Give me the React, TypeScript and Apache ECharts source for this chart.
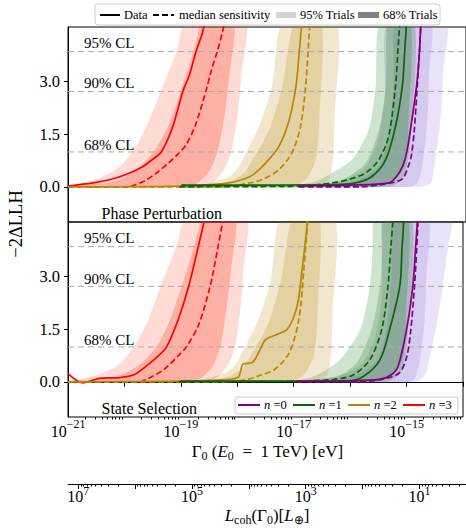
import React, { useEffect, useRef } from 'react';
import * as echarts from 'echarts';

// ---------- axes ----------
const X_MIN = -21; // log10(Gamma0 / eV)
const X_MAX = -14;
const Y_MIN = -1;
const Y_MAX = 4.54;
const Y_TICKS = [0, 1.5, 3];
const X_LABEL_EXPONENTS = [-21, -19, -17, -15];
const L_OFFSET = -13.82; // log10(Lcoh) = L_OFFSET - log10(Gamma0)
const L_LABEL_EXPONENTS = [1, 3, 5, 7];
const CL_LEVELS = [0.99, 2.71, 3.84];
const CL_LABELS = ['68% CL', '90% CL', '95% CL'];
const PANEL_LABELS = ['Phase Perturbation', 'State Selection'];
const N_VALUES = [0, 1, 2, 3];

// ---------- Phase Perturbation panel: [log10 Gamma0, -2ΔLLH] ----------
const phaseN3Data = [[-21, 0.02], [-20.56, 0.11], [-20.27, 0.2], [-19.98, 0.35], [-19.68, 0.58], [-19.53, 0.76], [-19.36, 0.99], [-19.16, 1.7], [-18.98, 2.71], [-18.86, 3.2], [-18.75, 3.84], [-18.65, 4.3], [-18.57, 4.8]];
const phaseN3Median = [[-21, 0], [-19.92, 0], [-19.83, 0.05], [-19.64, 0.18], [-19.44, 0.4], [-19.25, 0.65], [-19.07, 0.92], [-18.92, 1.2], [-18.76, 1.75], [-18.57, 2.74], [-18.48, 3.3], [-18.37, 3.87], [-18.28, 4.42], [-18.23, 4.8]];
const phaseN3Up95 = [[-21, 0.03], [-20.85, 0.07], [-20.44, 0.26], [-20.09, 0.58], [-19.8, 1.15], [-19.57, 1.91], [-19.33, 2.86], [-19.1, 3.8], [-18.89, 4.8]];
const phaseN3Lo95 = [[-21, 0], [-18.6, 0], [-18.43, 0.15], [-18.25, 0.5], [-18.13, 1.0], [-18.02, 2.0], [-17.95, 3.2], [-17.89, 4.8]];
const phaseN3Up68 = [[-21, 0.01], [-20.27, 0.12], [-19.92, 0.35], [-19.65, 0.7], [-19.43, 1.15], [-19.22, 1.8], [-19.04, 2.6], [-18.86, 3.5], [-18.72, 4.3], [-18.64, 4.8]];
const phaseN3Lo68 = [[-21, 0], [-18.86, 0], [-18.69, 0.15], [-18.51, 0.45], [-18.37, 1.0], [-18.25, 2.0], [-18.16, 3.2], [-18.09, 4.8]];

const phaseN2Data = [[-21, 0], [-19.04, 0.02], [-18.22, 0.1], [-17.9, 0.22], [-17.73, 0.36], [-17.52, 0.68], [-17.29, 1.15], [-17.11, 1.9], [-16.99, 2.86], [-16.94, 3.7], [-16.88, 4.8]];
const phaseN2Median = [[-21, 0], [-18.25, 0], [-17.81, 0.11], [-17.58, 0.21], [-17.29, 0.49], [-17.06, 0.97], [-16.91, 1.72], [-16.82, 2.86], [-16.78, 3.8], [-16.74, 4.8]];
const phaseN2Up95 = [[-21, 0], [-18.86, 0.02], [-18.51, 0.11], [-18.16, 0.3], [-17.99, 0.6], [-17.81, 1.15], [-17.64, 1.72], [-17.41, 2.86], [-17.2, 4.8]];
const phaseN2Lo95 = [[-21, 0], [-16.94, 0], [-16.58, 0.05], [-16.41, 0.2], [-16.34, 0.8], [-16.31, 2.0], [-16.29, 4.8]];
const phaseN2Up68 = [[-21, 0], [-18.51, 0.05], [-18.16, 0.15], [-17.9, 0.4], [-17.75, 0.78], [-17.46, 1.63], [-17.23, 2.86], [-16.99, 4.8]];
const phaseN2Lo68 = [[-21, 0], [-17.11, 0], [-16.82, 0.2], [-16.64, 0.78], [-16.58, 1.9], [-16.55, 4.8]];

const phaseN1Data = [[-19.01, 0.05], [-17.81, 0.05], [-16.36, 0.06], [-15.94, 0.11], [-15.65, 0.3], [-15.41, 0.78], [-15.24, 1.72], [-15.12, 2.86], [-15.08, 3.8], [-15.04, 4.8]];
const phaseN1Median = [[-19.04, 0], [-16.94, 0.02], [-16.36, 0.11], [-16.06, 0.21], [-15.76, 0.4], [-15.53, 0.78], [-15.36, 1.44], [-15.24, 2.86], [-15.2, 3.8], [-15.16, 4.8]];
const phaseN1Up95 = [[-19.01, 0], [-16.94, 0.07], [-16.64, 0.16], [-16.35, 0.4], [-16.0, 0.78], [-15.71, 1.63], [-15.59, 2.86], [-15.5, 4.8]];
const phaseN1Lo95 = [[-19.01, 0], [-15.36, 0], [-15.09, 0.3], [-14.97, 1.5], [-14.92, 4.8]];
const phaseN1Up68 = [[-19.01, 0], [-16.36, 0.11], [-16.06, 0.3], [-15.76, 0.68], [-15.53, 1.63], [-15.41, 2.86], [-15.36, 4.8]];
const phaseN1Lo68 = [[-19.01, 0], [-15.53, 0], [-15.24, 0.2], [-15.06, 0.7], [-15.01, 1.9], [-14.98, 4.8]];

const phaseN0Data = [[-16.94, 0.03], [-16.06, 0.05], [-15.36, 0.11], [-15.22, 0.3], [-15.11, 0.6], [-15.04, 1.0], [-14.96, 1.8], [-14.87, 2.86], [-14.82, 3.8], [-14.79, 4.8]];
const phaseN0Median = [[-16.94, 0], [-15.88, 0], [-15.48, 0.07], [-15.13, 0.21], [-15.01, 0.6], [-14.96, 0.9], [-14.91, 1.6], [-14.86, 2.8], [-14.82, 3.8], [-14.79, 4.8]];
const phaseN0Up95 = [[-16.94, 0.03], [-16.23, 0.15], [-15.8, 0.5], [-15.57, 1.2], [-15.43, 2.5], [-15.36, 4.8]];
const phaseN0Lo95 = [[-16.94, 0], [-14.83, 0], [-14.62, 0.11], [-14.54, 0.78], [-14.45, 1.91], [-14.4, 3.3], [-14.36, 4.8]];
const phaseN0Up68 = [[-16.94, 0], [-16.41, 0.05], [-15.88, 0.2], [-15.53, 0.6], [-15.36, 1.5], [-15.27, 3.0], [-15.22, 4.8]];
const phaseN0Lo68 = [[-16.94, 0], [-15.0, 0], [-14.86, 0.1], [-14.77, 0.58], [-14.68, 1.91], [-14.65, 3.2], [-14.62, 4.8]];

// ---------- State Selection panel ----------
const stateN3Data = [[-21, 0.23], [-20.74, -0.03], [-20.44, 0.1], [-20.09, 0.12], [-19.83, 0.2], [-19.57, 0.5], [-19.39, 0.75], [-19.25, 1.0], [-19.04, 1.8], [-18.86, 2.72], [-18.69, 3.85], [-18.55, 4.8]];
const stateN3Median = [[-21, 0], [-19.74, 0], [-19.57, 0.1], [-19.3, 0.35], [-19.04, 0.75], [-18.9, 1.0], [-18.69, 1.6], [-18.48, 2.72], [-18.34, 3.85], [-18.23, 4.8]];
const stateN3Up95 = [[-21, 0.05], [-20.79, 0.08], [-20.44, 0.22], [-20.09, 0.5], [-19.79, 1.1], [-19.57, 1.8], [-19.34, 2.8], [-19.09, 3.8], [-18.86, 4.8]];
const stateN3Lo95 = [[-21, 0], [-18.51, 0], [-18.34, 0.15], [-18.16, 0.5], [-18.04, 1.0], [-17.95, 2.0], [-17.89, 3.2], [-17.85, 4.8]];
const stateN3Up68 = [[-21, 0.02], [-20.27, 0.1], [-19.92, 0.3], [-19.65, 0.6], [-19.39, 1.1], [-19.18, 1.8], [-19.01, 2.6], [-18.83, 3.5], [-18.69, 4.3], [-18.6, 4.8]];
const stateN3Lo68 = [[-21, 0], [-18.78, 0], [-18.6, 0.15], [-18.43, 0.45], [-18.3, 1.0], [-18.2, 2.0], [-18.11, 3.2], [-18.04, 4.8]];

const stateN2Data = [[-21, 0], [-19.04, 0.02], [-18.34, 0.05], [-17.99, 0.12], [-17.9, 0.5], [-17.73, 0.55], [-17.6, 0.9], [-17.5, 1.2], [-17.29, 1.35], [-17.11, 1.5], [-16.94, 2.15], [-16.85, 3.2], [-16.78, 4.2], [-16.74, 4.8]];
const stateN2Median = [[-21, 0], [-18.25, 0], [-17.81, 0.07], [-17.64, 0.16], [-17.34, 0.35], [-17.08, 0.82], [-16.91, 1.77], [-16.82, 3.19], [-16.78, 4.0], [-16.74, 4.8]];
const stateN2Up95 = [[-21, 0], [-18.86, 0.02], [-18.51, 0.11], [-18.16, 0.3], [-17.99, 0.6], [-17.81, 1.15], [-17.64, 1.72], [-17.41, 2.86], [-17.2, 4.8]];
const stateN2Lo95 = [[-21, 0], [-16.94, 0], [-16.58, 0.05], [-16.41, 0.2], [-16.34, 0.8], [-16.31, 2.0], [-16.29, 4.8]];
const stateN2Up68 = [[-21, 0], [-18.51, 0.05], [-18.16, 0.15], [-17.9, 0.4], [-17.75, 0.78], [-17.46, 1.63], [-17.23, 2.86], [-16.99, 4.8]];
const stateN2Lo68 = [[-21, 0], [-17.11, 0], [-16.82, 0.2], [-16.64, 0.78], [-16.58, 1.9], [-16.55, 4.8]];

const stateN1Data = [[-19.01, 0.02], [-16.06, 0.02], [-15.76, 0.16], [-15.47, 0.63], [-15.3, 1.49], [-15.12, 2.72], [-15.08, 3.8], [-15.04, 4.8]];
const stateN1Median = [[-19.04, 0], [-16.94, 0.02], [-16.29, 0.07], [-15.94, 0.2], [-15.65, 0.63], [-15.44, 1.49], [-15.33, 2.72], [-15.28, 3.8], [-15.23, 4.8]];
const stateN1Up95 = [[-19.01, 0], [-17.11, 0.02], [-16.64, 0.16], [-16.18, 0.63], [-15.82, 1.49], [-15.65, 2.72], [-15.6, 3.8], [-15.55, 4.8]];
const stateN1Lo95 = [[-19.01, 0], [-15.36, 0], [-15.09, 0.3], [-14.97, 1.5], [-14.92, 4.8]];
const stateN1Up68 = [[-19.01, 0], [-16.94, 0.03], [-16.23, 0.16], [-15.88, 0.54], [-15.62, 1.49], [-15.47, 2.72], [-15.43, 3.8], [-15.41, 4.8]];
const stateN1Lo68 = [[-19.01, 0], [-15.53, 0], [-15.24, 0.2], [-15.06, 0.7], [-15.01, 1.9], [-14.98, 4.8]];

const stateN0Data = [[-16.94, 0.02], [-16.06, 0.03], [-15.48, 0.07], [-15.27, 0.2], [-15.15, 0.44], [-15.0, 1.49], [-14.89, 2.72], [-14.84, 3.8], [-14.8, 4.8]];
const stateN0Median = [[-16.94, 0], [-15.88, 0], [-15.44, 0.07], [-15.13, 0.25], [-15.0, 0.7], [-14.93, 1.4], [-14.86, 2.7], [-14.82, 3.8], [-14.79, 4.8]];
const stateN0Up95 = [[-16.94, 0.03], [-16.23, 0.15], [-15.8, 0.5], [-15.57, 1.2], [-15.43, 2.5], [-15.36, 4.8]];
const stateN0Lo95 = [[-16.94, 0], [-14.83, 0], [-14.66, 0.25], [-14.57, 0.82], [-14.45, 1.77], [-14.36, 2.72], [-14.27, 3.8], [-14.22, 4.8]];
const stateN0Up68 = [[-16.94, 0], [-16.41, 0.05], [-15.88, 0.2], [-15.53, 0.6], [-15.36, 1.5], [-15.27, 3.0], [-15.22, 4.8]];
const stateN0Lo68 = [[-16.94, 0], [-14.97, 0], [-14.86, 0.07], [-14.77, 0.54], [-14.68, 1.77], [-14.65, 3.0], [-14.62, 4.8]];

// ---------- styles ----------
const FONT = 'Liberation Serif';
const LINE_COLORS = ['#800080', '#0b640b', '#b8860b', '#ff0000'];
const BAND_COLORS = ['rgba(147,112,219,0.2)', 'rgba(0,110,0,0.19)', 'rgba(184,134,11,0.2)', 'rgba(255,30,0,0.16)'];
const BAND_COLORS_68 = ['rgba(147,112,219,0.22)', 'rgba(0,110,0,0.2)', 'rgba(184,134,11,0.22)', 'rgba(255,40,10,0.24)'];

const PANELS = [
  {
    n: [
      { data: phaseN0Data, median: phaseN0Median, up95: phaseN0Up95, lo95: phaseN0Lo95, up68: phaseN0Up68, lo68: phaseN0Lo68 },
      { data: phaseN1Data, median: phaseN1Median, up95: phaseN1Up95, lo95: phaseN1Lo95, up68: phaseN1Up68, lo68: phaseN1Lo68 },
      { data: phaseN2Data, median: phaseN2Median, up95: phaseN2Up95, lo95: phaseN2Lo95, up68: phaseN2Up68, lo68: phaseN2Lo68 },
      { data: phaseN3Data, median: phaseN3Median, up95: phaseN3Up95, lo95: phaseN3Lo95, up68: phaseN3Up68, lo68: phaseN3Lo68 },
    ],
  },
  {
    n: [
      { data: stateN0Data, median: stateN0Median, up95: stateN0Up95, lo95: stateN0Lo95, up68: stateN0Up68, lo68: stateN0Lo68 },
      { data: stateN1Data, median: stateN1Median, up95: stateN1Up95, lo95: stateN1Lo95, up68: stateN1Up68, lo68: stateN1Lo68 },
      { data: stateN2Data, median: stateN2Median, up95: stateN2Up95, lo95: stateN2Lo95, up68: stateN2Up68, lo68: stateN2Lo68 },
      { data: stateN3Data, median: stateN3Median, up95: stateN3Up95, lo95: stateN3Lo95, up68: stateN3Up68, lo68: stateN3Lo68 },
    ],
  },
];

function bandSeries(upper: number[][], lower: number[][], fill: string, axisIndex: number) {
  return {
    type: 'custom',
    xAxisIndex: axisIndex,
    yAxisIndex: axisIndex,
    silent: true,
    clip: true,
    z: 1,
    data: [upper[0]],
    encode: { x: 0, y: 1 },
    renderItem: (params: any, api: any) => {
      const pts = upper.concat(lower.slice().reverse()).map((p) => api.coord(p));
      const cs = params.coordSys;
      return {
        type: 'polygon',
        shape: { points: pts, smooth: 0.25 },
        style: { fill },
        clipPath: { type: 'rect', shape: { x: cs.x, y: cs.y, width: cs.width, height: cs.height } },
      };
    },
  };
}

function lineSeries(data: number[][], color: string, dashed: boolean, axisIndex: number) {
  return {
    type: 'line',
    xAxisIndex: axisIndex,
    yAxisIndex: axisIndex,
    data,
    showSymbol: false,
    symbol: 'none',
    smooth: 0.3,
    clip: true,
    silent: true,
    z: 4,
    lineStyle: { color, width: 1.7, type: dashed ? [6, 3] : 'solid' },
  };
}

function minorTicks(lo: number, hi: number) {
  const out: number[] = [];
  for (let d = Math.floor(lo); d <= Math.ceil(hi); d++) {
    for (let k = 2; k <= 9; k++) {
      const v = d + Math.log10(k);
      if (v >= lo && v <= hi) out.push(v);
    }
  }
  return out;
}

const L_MIN = L_OFFSET - X_MAX;
const L_MAX = L_OFFSET - X_MIN;

export default function App() {
  const ref = useRef<HTMLDivElement>(null);
  useEffect(() => {
    if (!ref.current) return;
    const chart = echarts.init(ref.current, undefined, { renderer: 'svg' });

    const series: any[] = [];
    PANELS.forEach((panel, pi) => {
      panel.n.forEach((s, ni) => {
        series.push(bandSeries(s.up95, s.lo95, BAND_COLORS[ni], pi));
        series.push(bandSeries(s.up68, s.lo68, BAND_COLORS_68[ni], pi));
      });
      CL_LEVELS.forEach((lvl) => {
        series.push({
          type: 'line', xAxisIndex: pi, yAxisIndex: pi, silent: true, z: 2,
          data: [[X_MIN, lvl], [X_MAX, lvl]], showSymbol: false, symbol: 'none',
          lineStyle: { color: '#ababab', width: 1, type: [6, 4] },
        });
      });
      [3, 2, 1, 0].forEach((ni) => {
        const s = panel.n[ni];
        series.push(lineSeries(s.median, LINE_COLORS[ni], true, pi));
        series.push(lineSeries(s.data, LINE_COLORS[ni], false, pi));
      });
    });

    const supRich = {
      b: { fontFamily: FONT, fontSize: 16, color: '#000', lineHeight: 21, verticalAlign: 'bottom' },
      s: { fontFamily: FONT, fontSize: 12, color: '#000', lineHeight: 12, verticalAlign: 'top' },
    };
    const supRichL = {
      b: { fontFamily: FONT, fontSize: 16, color: '#000', lineHeight: 19, verticalAlign: 'bottom' },
      s: { fontFamily: FONT, fontSize: 12, color: '#000', lineHeight: 11, verticalAlign: 'top' },
    };

    const yAxisBase = (gi: number) => ({
      gridIndex: gi, type: 'value', min: Y_MIN, max: Y_MAX,
      axisLine: { show: true, lineStyle: { color: '#000', width: 1 } },
      axisTick: { show: true, length: 4, customValues: Y_TICKS, lineStyle: { color: '#000' } },
      axisLabel: { customValues: Y_TICKS, formatter: (v: number) => v.toFixed(1), fontFamily: FONT, fontSize: 16.5, color: '#000', margin: 8 },
      splitLine: { show: false },
    });

    const minorX = minorTicks(X_MIN, X_MAX);
    const minorL = minorTicks(L_MIN, L_MAX);
    const majorL = [0, 1, 2, 3, 4, 5, 6, 7].filter((v) => v >= L_MIN && v <= L_MAX);

    const txt = (text: string, x: number, y: number, size: number, align = 'left', extra: any = {}) => ({
      type: 'text', x, y, silent: true, z: 100,
      style: { text, fill: '#000', fontFamily: FONT, fontSize: size, align, verticalAlign: 'middle', ...extra },
    });

    const graphic: any[] = [];
    // CL labels
    [0, 1].forEach((pi) => {
      const yc = [145, 83.3, 42.7].map((v) => v + pi * 195.3);
      CL_LABELS.forEach((lab, i) => graphic.push(txt(lab, 84, yc[i], 15)));
    });
    graphic.push(txt(PANEL_LABELS[0], 101.5, 213, 16));
    graphic.push(txt(PANEL_LABELS[1], 101.5, 408.5, 16));

    // top legend
    graphic.push({ type: 'rect', z: 90, shape: { x: 95, y: 4, width: 345, height: 21, r: 3 }, style: { fill: '#fff', stroke: '#cccccc', lineWidth: 1 } });
    graphic.push({ type: 'line', z: 100, shape: { x1: 100, y1: 15, x2: 120, y2: 15 }, style: { stroke: '#000', lineWidth: 2 } });
    graphic.push(txt('Data', 124, 15, 12.5));
    graphic.push({ type: 'line', z: 100, shape: { x1: 153, y1: 15, x2: 174, y2: 15 }, style: { stroke: '#000', lineWidth: 2, lineDash: [6, 3] } });
    graphic.push(txt('median sensitivity', 179, 15, 12.5));
    graphic.push({ type: 'rect', z: 100, shape: { x: 276, y: 12, width: 20, height: 6 }, style: { fill: '#d4d4d4' } });
    graphic.push(txt('95% Trials', 300, 15, 12.5));
    graphic.push({ type: 'rect', z: 100, shape: { x: 358, y: 12, width: 21, height: 6 }, style: { fill: '#808080' } });
    graphic.push(txt('68% Trials', 383, 15, 12.5));

    // bottom legend
    graphic.push({ type: 'rect', z: 90, shape: { x: 235, y: 397, width: 223, height: 17, r: 3 }, style: { fill: '#fff', stroke: '#cccccc', lineWidth: 1 } });
    const legX = [238, 293, 348, 403];
    N_VALUES.forEach((n, i) => {
      graphic.push({ type: 'line', z: 100, shape: { x1: legX[i], y1: 405, x2: legX[i] + 22, y2: 405 }, style: { stroke: LINE_COLORS[n], lineWidth: 2 } });
      graphic.push({
        type: 'text', x: legX[i] + 26, y: 405, z: 100, silent: true,
        style: {
          text: `{i|n} ={t|${n}}`, fill: '#000', fontFamily: FONT, fontSize: 12.5, verticalAlign: 'middle', align: 'left',
          rich: { i: { fontFamily: FONT, fontSize: 12.5, fontStyle: 'italic' }, t: { fontFamily: FONT, fontSize: 12.5 } },
        },
      });
    });

    // axis titles
    graphic.push({
      type: 'text', x: 16, y: 224, rotation: Math.PI / 2, z: 100, silent: true,
      style: { text: '−2ΔLLH', fill: '#000', fontFamily: FONT, fontSize: 18.5, align: 'center', verticalAlign: 'middle' },
    });
    const subRich = {
      t: { fontFamily: FONT, fontSize: 17, lineHeight: 19, verticalAlign: 'top', color: '#000' },
      i: { fontFamily: FONT, fontSize: 17, lineHeight: 19, verticalAlign: 'top', fontStyle: 'italic', color: '#000' },
      sb: { fontFamily: FONT, fontSize: 12, lineHeight: 11, verticalAlign: 'bottom', color: '#000' },
    };
    graphic.push({
      type: 'text', x: 267.5, y: 452, z: 100, silent: true,
      style: { text: '{t|Γ}{sb|0}{t| (}{i|E}{sb|0}{t|  =  1 TeV) [eV]}', fontFamily: FONT, fontSize: 17, rich: subRich, align: 'center', verticalAlign: 'middle' },
    });
    graphic.push({
      type: 'text', x: 267, y: 516, z: 100, silent: true,
      style: { text: '{i|L}{sb|coh}{t|(Γ}{sb|0}{t|)[}{i|L}{sb|⊕}{t|]}', fontFamily: FONT, fontSize: 17, rich: subRich, align: 'center', verticalAlign: 'middle' },
    });

    const option: any = {
      animation: false,
      textStyle: { fontFamily: FONT },
      grid: [
        { left: 68, top: 27, width: 399, height: 195, show: true, borderColor: '#000', borderWidth: 1, backgroundColor: 'transparent' },
        { left: 68, top: 222, width: 399, height: 195, show: true, borderColor: '#000', borderWidth: 1, backgroundColor: 'transparent' },
        { left: 68, top: 474, width: 399, height: 10, show: false },
      ],
      xAxis: [
        { gridIndex: 0, type: 'value', min: X_MIN, max: X_MAX, axisLine: { show: false }, axisTick: { show: false }, axisLabel: { show: false }, splitLine: { show: false } },
        {
          gridIndex: 1, type: 'value', min: X_MIN, max: X_MAX, interval: 1, position: 'bottom',
          axisLine: { show: true, lineStyle: { color: '#000', width: 1 } },
          axisTick: { show: true, length: 5, lineStyle: { color: '#000' } },
          axisLabel: {
            margin: 1, rich: supRich, fontFamily: FONT, fontSize: 16, color: '#000',
            formatter: (v: number) => {
              const e = Math.round(v);
              return X_LABEL_EXPONENTS.includes(e) && Math.abs(v - e) < 1e-6 ? `{b|10}{s|−${-e}}` : '';
            },
          },
          splitLine: { show: false },
        },
        {
          gridIndex: 1, type: 'value', min: X_MIN, max: X_MAX, position: 'bottom',
          axisLine: { show: false },
          axisTick: { show: true, length: 2.5, customValues: minorX, lineStyle: { color: '#000' } },
          axisLabel: { show: false, customValues: minorX },
          splitLine: { show: false },
        },
        {
          gridIndex: 2, type: 'value', min: L_MIN, max: L_MAX, inverse: true, position: 'bottom',
          axisLine: { show: true, lineStyle: { color: '#000', width: 1 } },
          axisTick: { show: true, length: 5, customValues: majorL, lineStyle: { color: '#000' } },
          axisLabel: {
            customValues: L_LABEL_EXPONENTS, margin: 1, rich: supRichL, fontFamily: FONT, fontSize: 16, color: '#000',
            formatter: (v: number) => `{b|10}{s|${Math.round(v)}}`,
          },
          splitLine: { show: false },
        },
        {
          gridIndex: 2, type: 'value', min: L_MIN, max: L_MAX, inverse: true, position: 'bottom',
          axisLine: { show: false },
          axisTick: { show: true, length: 2.5, customValues: minorL, lineStyle: { color: '#000' } },
          axisLabel: { show: false, customValues: minorL },
          splitLine: { show: false },
        },
      ],
      yAxis: [yAxisBase(0), yAxisBase(1), { gridIndex: 2, type: 'value', min: 0, max: 1, show: false }],
      series,
      graphic,
    };
    chart.setOption(option);
    return () => chart.dispose();
  }, []);
  return <div ref={ref} style={{ position: 'absolute', left: 0, top: 0, width: 466, height: 528, background: '#fff' }} />;
}
